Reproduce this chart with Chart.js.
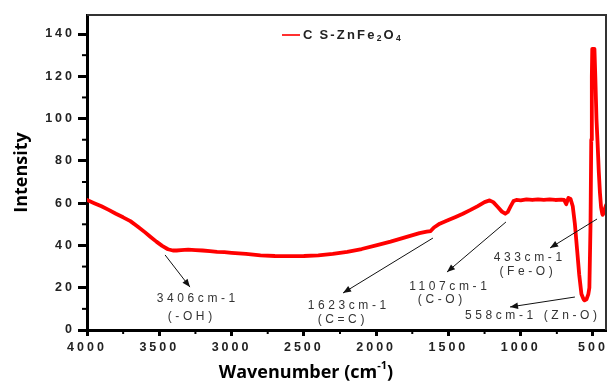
<!DOCTYPE html>
<html><head><meta charset="utf-8">
<script src="https://cdn.jsdelivr.net/npm/chart.js@4.4.1/dist/chart.umd.min.js"></script>
<style>html,body{margin:0;padding:0;background:#fff;}#wrap{width:608px;height:392px;}</style>
</head><body><div id="wrap"><canvas id="c" width="608" height="392"></canvas></div>
<script>
// ---- data ----
const wavenumbers = [4000,3950,3900,3850,3800,3750,3700,3650,3600,3560,3520,3480,3440,3406,3380,3350,3300,3250,3200,3150,3100,3050,3000,2900,2800,2700,2600,2500,2400,2300,2200,2100,2000,1900,1800,1700,1650,1623,1600,1560,1500,1450,1400,1350,1300,1250,1215,1190,1160,1130,1107,1090,1070,1050,1030,1000,960,920,880,840,800,760,720,700,685,670,655,640,625,610,595,580,565,558,545,532,525,517,512,508,505,490,484,476,468,460,452,444,436,433,425,417,410];
const intensity   = [61.5,60,58.5,56.8,55,53.3,51.5,49,46.3,44,41.8,39.8,38.2,37.6,37.6,37.8,38,37.8,37.6,37.3,37,36.8,36.5,36,35.3,35,34.9,35,35.3,36,37,38.3,40,41.8,43.8,45.8,46.5,46.8,48.5,50.3,52,53.5,55,56.7,58.5,60.5,61.3,60.5,58.3,56,55,55.8,58.5,61,61.5,61.3,61.8,61.5,61.8,61.6,61.8,61.5,61.7,61.5,59.5,62.5,62,58.5,50,38,26,17,14.5,14,14.5,17,20,50,90,120,133,133,120,100,88,75,65,58,55,54.5,55.5,57.5,59];
const xTicks = [4000,3500,3000,2500,2000,1500,1000,500];
const yTicks = [0,20,40,60,80,100,120,140];
const xMinorTicks = [3750,3250,2750,2250,1750,1250,750];
const yMinorTicks = [10,30,50,70,90,110,130];
const seriesName = ['C\u2009S-ZnFe','2','O','4']; // text, sub, text, sub
const annotations = [
  {lines:['3406cm-1','(-OH)'],            from:[3460,35.5], to:[3288,20.3], at:[[3246,14.7],[3288,6.1]]},
  {lines:['1623cm-1','(C=C)'],            from:[1607,43.5], to:[2229,17.5], at:[[2202,11.4],[2243,4.7]]},
  {lines:['1107cm-1','(C-O)'],            from:[1102,51.1], to:[1510,27.4], at:[[1503,20.3],[1558,14.2]]},
  {lines:['433cm-1','(Fe-O)'],            from:[472,52.5],  to:[797,38.8],  at:[[950,34.1],[963,27.4]]},
  {lines:['558cm-1 (Zn-O)'],              from:[625,15.6],  to:[1074,10.9], at:[[929,6.6]]}
];
const xTitle = ['Wavenumber (cm','-1',')'];
const yTitle = 'Intensity';

const points = wavenumbers.map((w,i)=>({x:w,y:intensity[i]}));

function arrow(ctx,x1,y1,x2,y2){
  ctx.beginPath();ctx.moveTo(x1,y1);ctx.lineTo(x2,y2);ctx.stroke();
  const ang=Math.atan2(y2-y1,x2-x1), L=8, W=3.2;
  ctx.beginPath();
  ctx.moveTo(x2,y2);
  ctx.lineTo(x2-L*Math.cos(ang)+W*Math.sin(ang), y2-L*Math.sin(ang)-W*Math.cos(ang));
  ctx.lineTo(x2-L*Math.cos(ang)-W*Math.sin(ang), y2-L*Math.sin(ang)+W*Math.cos(ang));
  ctx.closePath();ctx.fill();
}

const decor = {
  id:'decor',
  beforeDraw(c){ c.ctx.letterSpacing='3px'; },
  afterDraw(c){
    const ctx=c.ctx, a=c.chartArea, X=c.scales.x, Y=c.scales.y;
    ctx.save();
    ctx.letterSpacing='0px';
    // frame top/right
    ctx.strokeStyle='#333';ctx.lineWidth=2;
    ctx.beginPath();ctx.moveTo(a.left,a.top);ctx.lineTo(a.right,a.top);ctx.lineTo(a.right,a.bottom);ctx.stroke();
    // minor ticks
    ctx.strokeStyle='#000';ctx.lineWidth=2;
    xMinorTicks.forEach(v=>{const x=X.getPixelForValue(v);ctx.beginPath();ctx.moveTo(x,a.bottom);ctx.lineTo(x,a.bottom+4);ctx.stroke();});
    yMinorTicks.forEach(v=>{const y=Y.getPixelForValue(v);ctx.beginPath();ctx.moveTo(a.left,y);ctx.lineTo(a.left-5,y);ctx.stroke();});
    // annotations
    ctx.strokeStyle='#111';ctx.fillStyle='#111';ctx.lineWidth=1;
    annotations.forEach(an=>{
      arrow(ctx,X.getPixelForValue(an.from[0]),Y.getPixelForValue(an.from[1]),X.getPixelForValue(an.to[0]),Y.getPixelForValue(an.to[1]));
    });
    ctx.fillStyle='#333';ctx.font='12px "Liberation Sans", Arial, sans-serif';
    ctx.letterSpacing='3.6px';ctx.textAlign='center';ctx.textBaseline='middle';
    annotations.forEach(an=>{
      an.lines.forEach((t,i)=>{ctx.fillText(t,X.getPixelForValue(an.at[i][0])+1.8,Y.getPixelForValue(an.at[i][1]));});
    });
    // legend
    ctx.letterSpacing='2.2px';
    const ly=a.top+20, lx=a.left+195;
    ctx.strokeStyle='#ff3030';ctx.lineWidth=2;
    ctx.beginPath();ctx.moveTo(lx,ly);ctx.lineTo(lx+18,ly);ctx.stroke();
    ctx.fillStyle='#222';ctx.textAlign='left';ctx.textBaseline='middle';
    let cx=lx+21;
    seriesName.forEach((t,i)=>{
      const sub=i%2===1;
      ctx.font=sub?'bold 8.5px "Liberation Sans", Arial, sans-serif':'bold 13px "Liberation Sans", Arial, sans-serif';
      ctx.fillText(t,cx,sub?ly+4:ly);
      cx+=ctx.measureText(t).width;
    });
    // axis titles
    ctx.letterSpacing='0px';
    ctx.fillStyle='#000';
    ctx.font='bold 18px "Open Sans", sans-serif';
    ctx.textBaseline='middle';ctx.textAlign='left';
    const w0=ctx.measureText(xTitle[0]).width;
    ctx.font='bold 11px "Open Sans", sans-serif';
    const w1=ctx.measureText(xTitle[1]).width;
    ctx.font='bold 18px "Open Sans", sans-serif';
    const w2=ctx.measureText(xTitle[2]).width;
    let tx=306-(w0+w1+w2)/2, ty=373;
    ctx.fillText(xTitle[0],tx,ty); tx+=w0;
    ctx.font='bold 11px "Open Sans", sans-serif';
    ctx.fillText(xTitle[1],tx,ty-7); tx+=w1;
    ctx.font='bold 18px "Open Sans", sans-serif';
    ctx.fillText(xTitle[2],tx,ty);
    ctx.save();ctx.translate(22,(a.top+a.bottom)/2);ctx.rotate(-Math.PI/2);
    ctx.textAlign='center';ctx.fillText(yTitle,0,0);ctx.restore();
    ctx.restore();
  }
};

const tickFont={family:'"Liberation Sans", Arial, sans-serif',weight:'bold',size:12.5};
new Chart(document.getElementById('c'),{
  type:'line',
  data:{datasets:[{label:seriesName.join(''),data:points,borderColor:'#ff0000',borderWidth:3.8,pointRadius:0,tension:0,borderJoinStyle:'round',borderCapStyle:'round'}]},
  options:{
    responsive:false,animation:false,devicePixelRatio:1,
    layout:{padding:{top:15,right:2,left:0,bottom:0}},
    plugins:{legend:{display:false},tooltip:{enabled:false}},
    scales:{
      x:{type:'linear',reverse:true,min:410,max:4000,
        afterBuildTicks:s=>{s.ticks=xTicks.map(v=>({value:v}));},
        afterFit:s=>{s.height=62;},
        ticks:{font:tickFont,color:'#222',padding:4,maxRotation:0,autoSkip:false,callback:v=>String(v)},
        grid:{drawOnChartArea:false,tickLength:6,tickWidth:3,tickColor:'#000'},
        border:{color:'#000',width:3}},
      y:{type:'linear',min:0,max:149,
        afterBuildTicks:s=>{s.ticks=yTicks.map(v=>({value:v}));},
        afterFit:s=>{s.width=87;},
        ticks:{font:tickFont,color:'#222',padding:3,autoSkip:false,callback:v=>String(v)},
        grid:{drawOnChartArea:false,tickLength:9,tickWidth:3,tickColor:'#000'},
        border:{color:'#000',width:3}}
    }
  },
  plugins:[decor]
});
</script></body></html>
